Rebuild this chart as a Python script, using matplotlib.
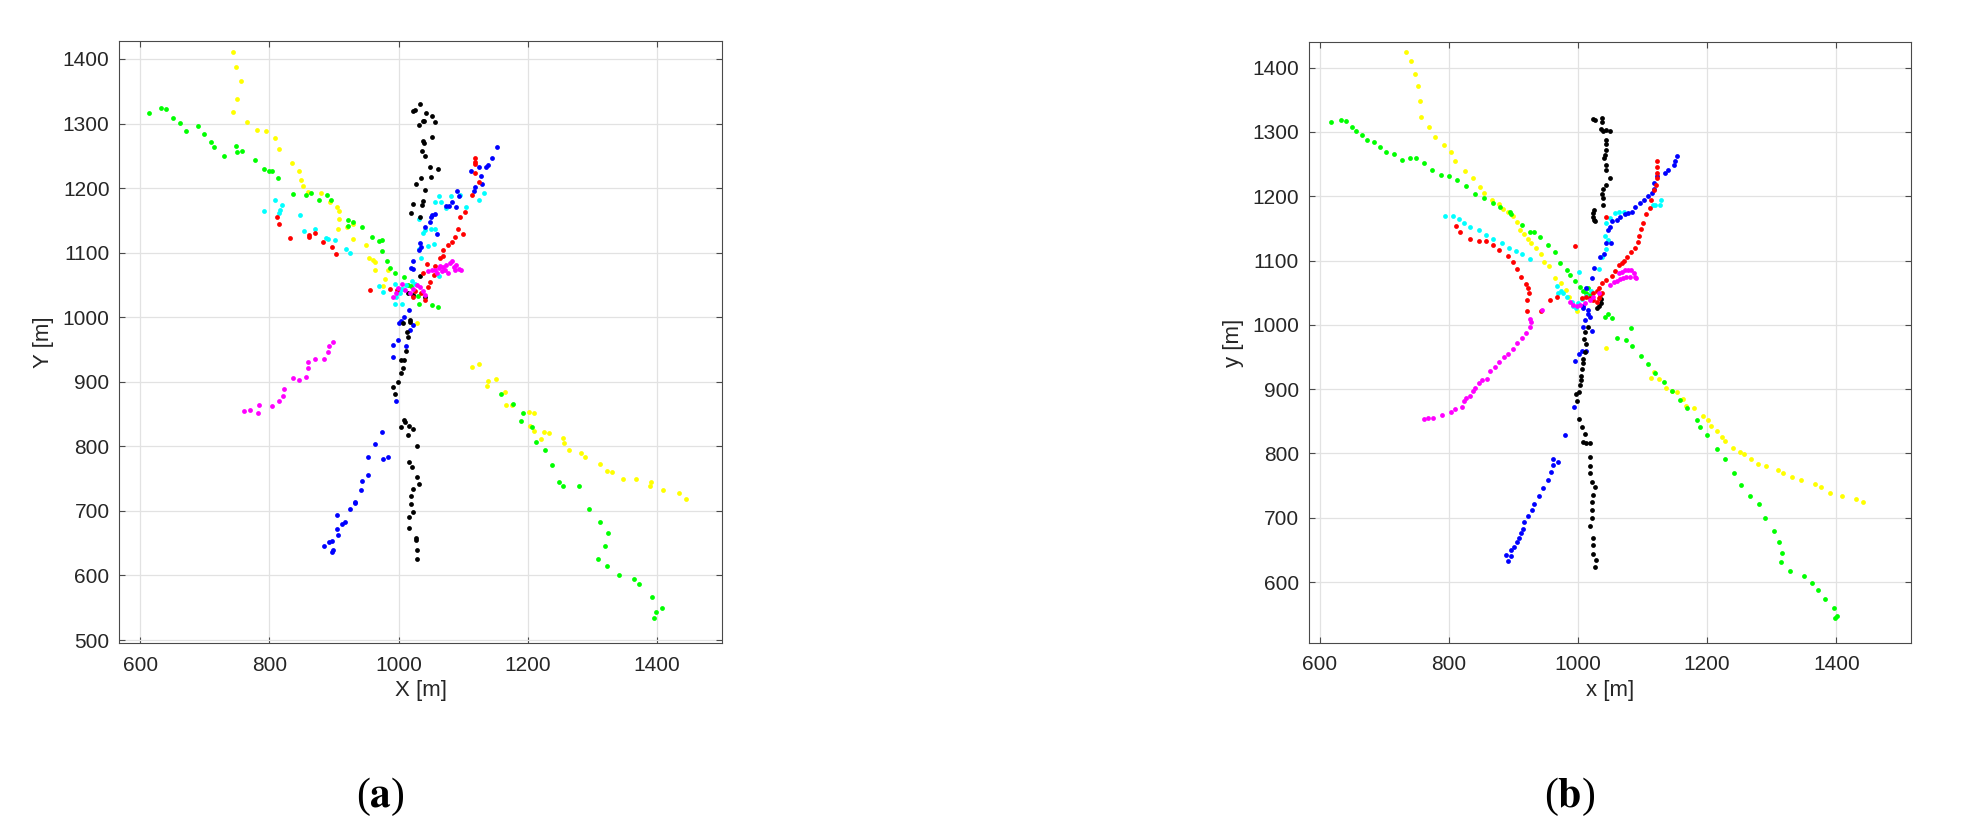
import numpy as np
import matplotlib
matplotlib.use('Agg')
import matplotlib.pyplot as plt

# %% data (x, y in metres)

# panel (a)
A_YELLOW = [(743, 1411), (748, 1388), (756, 1366), (749, 1338), (744, 1318), (765, 1303), (781, 1290), (794, 1289),
            (808, 1277), (815, 1261), (835, 1239), (845, 1226), (849, 1213), (852, 1203), (860, 1194), (880, 1192),
            (893, 1179), (905, 1171), (908, 1165), (908, 1152), (906, 1137), (920, 1139), (930, 1144), (930, 1121),
            (949, 1112), (954, 1092), (960, 1088), (963, 1086), (963, 1073), (983, 1073), (979, 1059), (976, 1049),
            (1029, 991),
            (1114, 923), (1125, 928), (1139, 901), (1137, 894), (1151, 904), (1165, 884), (1167, 864), (1175, 864),
            (1202, 853), (1210, 851), (1204, 832), (1209, 823), (1220, 811), (1225, 822), (1233, 820), (1254, 813),
            (1256, 805), (1264, 794), (1283, 790), (1289, 784), (1312, 773), (1322, 762), (1331, 761), (1347, 749),
            (1368, 749), (1389, 738), (1391, 744), (1410, 732), (1434, 728), (1445, 719)]
A_GREEN = [(614, 1317), (632, 1324), (640, 1323), (650, 1309), (661, 1301), (670, 1288), (689, 1296), (698, 1284),
           (710, 1272), (714, 1264), (729, 1249), (748, 1265), (749, 1256), (757, 1258), (778, 1243), (792, 1230),
           (799, 1227), (804, 1227), (813, 1216), (837, 1191), (857, 1190), (864, 1192), (876, 1181), (889, 1189),
           (896, 1182), (921, 1151), (921, 1142), (930, 1148), (943, 1140), (959, 1125), (969, 1118), (974, 1119),
           (975, 1103), (982, 1087), (986, 1077), (995, 1068), (1008, 1063), (1019, 1048), (1032, 1020), (1051, 1019),
           (1061, 1016), (1015, 1050), (1030, 1033),
           (1158, 881), (1177, 866), (1192, 851), (1189, 839), (1206, 830), (1213, 806), (1226, 794), (1238, 771),
           (1249, 745), (1255, 739), (1279, 738), (1294, 703), (1311, 683), (1324, 666), (1319, 645), (1308, 626),
           (1322, 614), (1341, 601), (1365, 594), (1372, 586), (1392, 566), (1407, 550), (1399, 544), (1396, 534)]
A_CYAN = [(792, 1165), (809, 1181), (820, 1174), (817, 1166), (815, 1161), (847, 1159), (853, 1133), (870, 1136),
          (887, 1123), (891, 1121), (902, 1119), (918, 1105), (924, 1100), (970, 1048), (976, 1039), (995, 1052),
          (1004, 1044), (996, 1031), (995, 1021), (1005, 1021), (1007, 1044), (1012, 1050), (1020, 1056),
          (1025, 1052), (997, 1037), (1002, 1037),
          (1031, 1152), (1037, 1131), (1041, 1135), (1050, 1137), (1056, 1136), (1046, 1111), (1055, 1114),
          (1034, 1092), (1032, 1105), (1063, 1187), (1057, 1178), (1065, 1179), (1073, 1169), (1081, 1187),
          (1095, 1189), (1104, 1170), (1124, 1182), (1132, 1192), (1063, 1064)]
A_RED = [(811, 1155), (815, 1145), (832, 1123), (861, 1128), (861, 1125), (870, 1130), (883, 1116), (897, 1108),
         (903, 1098), (955, 1042),
         (1118, 1246), (1119, 1240), (1118, 1237), (1118, 1223), (1125, 1210), (1114, 1190), (1103, 1163),
         (1095, 1155), (1099, 1129), (1092, 1136), (1088, 1125), (1083, 1117), (1077, 1112), (1069, 1104),
         (1064, 1092), (1068, 1095), (1056, 1080), (1044, 1082), (1037, 1068),
         (987, 1044), (997, 1042), (1025, 1041), (1034, 1037), (1041, 1027), (1049, 1055), (1054, 1065),
         (1046, 1047), (1023, 1032)]
A_BLUE = [(1153, 1263), (1145, 1247), (1138, 1236), (1135, 1233), (1124, 1233), (1112, 1227), (1127, 1218),
          (1129, 1207), (1119, 1201), (1117, 1196), (1094, 1188), (1090, 1195), (1083, 1179), (1078, 1172),
          (1074, 1172), (1089, 1171), (1056, 1160), (1051, 1159), (1050, 1156), (1048, 1148), (1059, 1129),
          (1041, 1139), (1033, 1115), (1035, 1109), (1031, 1104), (1023, 1087), (1019, 1076), (1022, 1074),
          (1016, 1011), (1008, 1000), (1003, 994), (1000, 991), (1022, 988), (1018, 980), (999, 964), (992, 957),
          (1011, 955), (992, 939), (996, 870), (975, 822), (964, 804), (953, 784), (976, 780), (983, 783),
          (952, 755), (944, 747), (941, 732), (933, 714), (932, 712), (924, 703), (904, 693), (917, 683),
          (913, 680), (904, 672), (906, 663), (897, 654), (899, 640), (897, 637), (885, 645), (892, 652)]
A_BLACK = [(1033, 1331), (1023, 1320), (1025, 1321), (1042, 1317), (1052, 1312), (1056, 1302), (1037, 1304),
           (1040, 1304), (1031, 1297), (1038, 1273), (1039, 1270), (1051, 1279), (1036, 1258), (1041, 1249),
           (1048, 1232), (1061, 1230), (1034, 1215), (1050, 1217), (1027, 1206), (1041, 1197), (1022, 1176),
           (1037, 1180), (1036, 1174), (1019, 1162), (1033, 1155),
           (1015, 1037), (1033, 1064), (1041, 1031), (1023, 1034),
           (1007, 991), (1017, 995), (1017, 992), (1013, 977), (1014, 970), (1011, 947), (1004, 933), (1008, 933),
           (1007, 922), (1004, 914), (999, 900), (992, 892), (995, 881), (1008, 841), (1010, 837), (1004, 830),
           (1016, 831), (1023, 827), (1015, 818), (1028, 801), (1016, 776), (1021, 768), (1028, 752), (1031, 741),
           (1022, 734), (1019, 723), (1019, 711), (1022, 698), (1016, 690), (1016, 673), (1027, 658), (1027, 655),
           (1029, 639), (1029, 625)]
A_MAGENTA = [(760, 855), (770, 856), (782, 851), (784, 864), (804, 863), (815, 870), (821, 878), (823, 889),
             (836, 906), (845, 903), (856, 907), (859, 922), (859, 930), (871, 935), (884, 935), (891, 946),
             (892, 955), (899, 962),
             (1046, 1071), (1051, 1073), (1056, 1073), (1062, 1076), (1064, 1080), (1069, 1078), (1074, 1081),
             (1080, 1084), (1082, 1087), (1085, 1078), (1087, 1073), (1093, 1074), (1096, 1073), (1077, 1068),
             (1072, 1073), (1089, 1081), (1067, 1071), (1060, 1069),
             (992, 1032), (996, 1038), (1005, 1052), (1010, 1042), (1018, 1037), (1033, 1047), (1038, 1041),
             (1041, 1034), (999, 1046), (1023, 1044), (1028, 1050)]

# panel (b)
B_YELLOW = [(734, 1425), (741, 1410), (747, 1390), (752, 1371), (756, 1348), (757, 1323), (769, 1308), (779, 1292),
            (792, 1280), (803, 1269), (810, 1255), (825, 1240), (838, 1228), (848, 1215), (855, 1205), (867, 1195),
            (877, 1188), (884, 1181), (892, 1176), (900, 1169), (906, 1160), (910, 1148), (916, 1142), (923, 1134),
            (928, 1127), (935, 1119), (942, 1111), (947, 1098), (955, 1091), (965, 1073), (973, 1065), (981, 1054),
            (986, 1044), (998, 1022),
            (1044, 964), (1113, 918), (1117, 926), (1125, 916), (1137, 902), (1146, 897), (1153, 896), (1163, 885),
            (1168, 874), (1179, 870), (1193, 859), (1202, 852), (1206, 842), (1215, 835), (1223, 826), (1228, 820),
            (1240, 809), (1251, 803), (1257, 799), (1268, 792), (1278, 784), (1291, 780), (1309, 775), (1317, 769),
            (1331, 764), (1345, 759), (1367, 753), (1376, 748), (1390, 739), (1409, 734), (1431, 729), (1441, 724)]
B_GREEN = [(617, 1315), (633, 1318), (641, 1317), (650, 1308), (656, 1301), (665, 1295), (673, 1288), (684, 1284),
           (693, 1277), (703, 1269), (715, 1265), (727, 1256), (740, 1259), (749, 1259), (761, 1251), (774, 1241),
           (788, 1233), (800, 1231), (812, 1225), (826, 1216), (841, 1203), (855, 1198), (869, 1190), (879, 1183),
           (894, 1176), (896, 1173), (914, 1156), (926, 1145), (932, 1144), (941, 1136), (954, 1125), (964, 1114),
           (972, 1097), (983, 1086), (988, 1077), (996, 1069), (1003, 1059), (1013, 1050), (1019, 1047),
           (1008, 1053), (1015, 1057),
           (1042, 1013), (1047, 1017), (1053, 1011), (1082, 995), (1061, 979), (1074, 976), (1084, 967), (1098, 951),
           (1108, 939), (1119, 925), (1133, 911), (1145, 897), (1158, 883), (1169, 871), (1184, 852), (1189, 841),
           (1199, 828), (1215, 807), (1227, 791), (1241, 770), (1252, 751), (1266, 734), (1281, 721), (1289, 699),
           (1303, 680), (1312, 663), (1316, 645), (1315, 631), (1329, 617), (1350, 609), (1363, 598), (1372, 587),
           (1382, 574), (1396, 559), (1401, 548), (1398, 544)]
B_CYAN = [(794, 1170), (806, 1170), (815, 1165), (824, 1158), (833, 1153), (846, 1148), (857, 1140), (868, 1133),
          (882, 1127), (893, 1120), (904, 1115), (914, 1110), (925, 1103), (968, 1061), (973, 1053), (969, 1049),
          (977, 1049), (983, 1043), (990, 1035), (993, 1029), (1000, 1034), (1001, 1083), (1006, 1040),
          (1012, 1045), (1020, 1052), (997, 1026),
          (1032, 1087), (1037, 1106), (1043, 1118), (1046, 1132), (1042, 1138), (1043, 1158), (1050, 1166),
          (1057, 1174), (1063, 1176), (1071, 1176), (1116, 1186), (1120, 1186), (1127, 1187), (1128, 1194)]
B_RED = [(811, 1154), (818, 1144), (833, 1134), (846, 1130), (857, 1130), (868, 1124), (878, 1116), (891, 1107),
         (899, 1098), (906, 1087), (911, 1075), (920, 1064), (922, 1057), (924, 1050), (921, 1039), (921, 1022),
         (942, 1022), (956, 1039), (968, 1043), (996, 1122),
         (1123, 1255), (1123, 1246), (1122, 1237), (1122, 1228), (1121, 1217), (1118, 1210), (1113, 1195),
         (1111, 1182), (1106, 1172), (1101, 1159), (1097, 1149), (1095, 1138), (1093, 1129), (1088, 1120),
         (1082, 1114), (1076, 1106), (1072, 1100), (1068, 1097), (1064, 1093), (1057, 1084), (1052, 1076),
         (1044, 1070), (1037, 1065), (1032, 1057), (1043, 1168),
         (1024, 1049), (1029, 1052), (1034, 1047), (1032, 1042), (1019, 1042), (1013, 1044), (1037, 1049),
         (1029, 1036), (1024, 1039), (1006, 1042)]
B_BLUE = [(1154, 1263), (1150, 1255), (1149, 1249), (1140, 1241), (1135, 1237), (1122, 1231), (1118, 1220),
          (1117, 1212), (1114, 1205), (1109, 1200), (1102, 1194), (1096, 1189), (1088, 1184), (1083, 1176),
          (1078, 1174), (1073, 1173), (1065, 1168), (1060, 1163), (1052, 1161), (1050, 1153), (1047, 1148),
          (1051, 1128), (1044, 1128), (1040, 1111), (1034, 1106), (1025, 1088), (1022, 1073), (1013, 1057),
          (1008, 1029), (1016, 1023), (1019, 1013),
          (1008, 1027), (1015, 1017), (1011, 1007), (1007, 996), (1021, 991), (1013, 960), (1006, 959), (1001, 955),
          (995, 944), (994, 872), (980, 828), (962, 791), (961, 782), (969, 787), (958, 771), (953, 758),
          (946, 747), (939, 734), (932, 721), (929, 712), (922, 703), (917, 693), (915, 682), (911, 677),
          (908, 669), (905, 662), (901, 654), (897, 650), (889, 642), (896, 640), (891, 632)]
B_BLACK = [(1024, 1320), (1026, 1319), (1037, 1322), (1037, 1315), (1036, 1304), (1039, 1302), (1044, 1303),
           (1050, 1302), (1043, 1288), (1043, 1282), (1043, 1272), (1042, 1264), (1040, 1259), (1043, 1249),
           (1044, 1241), (1050, 1228), (1043, 1218), (1039, 1212), (1037, 1204), (1039, 1197), (1038, 1187),
           (1025, 1179), (1024, 1174), (1023, 1168), (1025, 1163), (1026, 1161),
           (1033, 1030), (1036, 1034), (1035, 1040), (1030, 1027),
           (1015, 996), (1011, 989), (1010, 978), (1012, 971), (1011, 958), (1007, 947), (1007, 941), (1006, 932),
           (1005, 921), (1004, 914), (1003, 906), (1002, 896), (997, 892), (999, 881), (1002, 853), (1006, 841),
           (1011, 830), (1008, 818), (1013, 817), (1018, 817), (1019, 794), (1019, 781), (1019, 769), (1021, 756),
           (1027, 748), (1024, 736), (1022, 724), (1021, 712), (1021, 699), (1019, 687), (1023, 669), (1023, 658),
           (1024, 644), (1028, 635), (1026, 623)]
B_MAGENTA = [(926, 1009), (928, 1005), (925, 996), (920, 987), (913, 979), (906, 972), (900, 963), (892, 955),
             (885, 950), (878, 942), (871, 935), (864, 929), (859, 916), (852, 915), (846, 909), (841, 902),
             (838, 897), (832, 890), (826, 886), (824, 882), (821, 873), (810, 869), (803, 865), (790, 860),
             (776, 855), (768, 855), (762, 853), (944, 1023),
             (1063, 1080), (1068, 1083), (1073, 1086), (1078, 1086), (1082, 1086), (1086, 1080), (1088, 1075),
             (1090, 1073), (1081, 1075), (1075, 1074), (1070, 1073), (1065, 1071), (1060, 1069), (1055, 1066),
             (1050, 1062),
             (993, 1031), (998, 1029), (1003, 1031), (1011, 1034), (1019, 1039), (1024, 1044), (1032, 1049),
             (988, 1036)]

# MATLAB's plain colour letters, in plotting order
COLOURS = ['#ffff00', '#00ff00', '#00ffff', '#0000ff', '#000000', '#ff0000', '#ff00ff']
PANEL_A = [A_YELLOW, A_GREEN, A_CYAN, A_BLUE, A_BLACK, A_RED, A_MAGENTA]
PANEL_B = [B_YELLOW, B_GREEN, B_CYAN, B_BLUE, B_BLACK, B_RED, B_MAGENTA]

XTICKS = [600, 800, 1000, 1200, 1400]
A_YTICKS = list(range(500, 1401, 100))
B_YTICKS = list(range(600, 1401, 100))

# %% plotting
plt.rcParams['font.family'] = ['Liberation Sans', 'DejaVu Sans']
plt.rcParams['mathtext.fontset'] = 'stix'

W, H = 1963, 838
px = 1 / 100
fig = plt.figure(figsize=(W * px, H * px), dpi=100)


def make_panel(rect, tracks, xlim, ylim, yticks, xlabel, ylabel):
    l, t, r, b = rect  # pixel box of the axes
    ax = fig.add_axes([l / W, (H - b) / H, (r - l) / W, (b - t) / H])
    for pts, c in zip(tracks, COLOURS):
        arr = np.array(pts, dtype=float)
        ax.scatter(arr[:, 0], arr[:, 1], s=12, c=c, linewidths=0, zorder=3)
    ax.set_xlim(xlim)
    ax.set_ylim(ylim)
    ax.set_xticks(XTICKS)
    ax.set_yticks(yticks)
    ax.grid(True, color='#e2e2e2', linewidth=0.9)
    ax.set_axisbelow(True)
    for s in ax.spines.values():
        s.set_color('#4a4a4a')
        s.set_linewidth(0.8)
    ax.tick_params(direction='in', top=True, right=True, length=4.5, width=0.8,
                   color='#4a4a4a', labelcolor='#262626', labelsize=15)
    ax.tick_params(axis='x', pad=9)
    ax.tick_params(axis='y', pad=7)
    ax.set_xlabel(xlabel, fontsize=16, color='#262626', labelpad=4)
    ax.set_ylabel(ylabel, fontsize=16, color='#262626', labelpad=6)
    return ax


ax_a = make_panel((119.3, 41.3, 721.7, 643.3), PANEL_A, (567.5, 1500.2), (494.9, 1427.4),
                  A_YTICKS, 'X [m]', 'Y [m]')
ax_b = make_panel((1308.7, 42.3, 1910.7, 642.7), PANEL_B, (583.0, 1515.2), (505.7, 1439.5),
                  B_YTICKS, 'x [m]', 'y [m]')

# sub-figure captions
fig.text(380 / W, 1 - 797 / H, r'($\mathbf{a}$)', fontsize=30, family='Liberation Serif',
         ha='center', va='center', color='black')
fig.text(1570 / W, 1 - 797 / H, r'($\mathbf{b}$)', fontsize=30, family='Liberation Serif',
         ha='center', va='center', color='black')

fig.savefig('out.png', dpi=100)
